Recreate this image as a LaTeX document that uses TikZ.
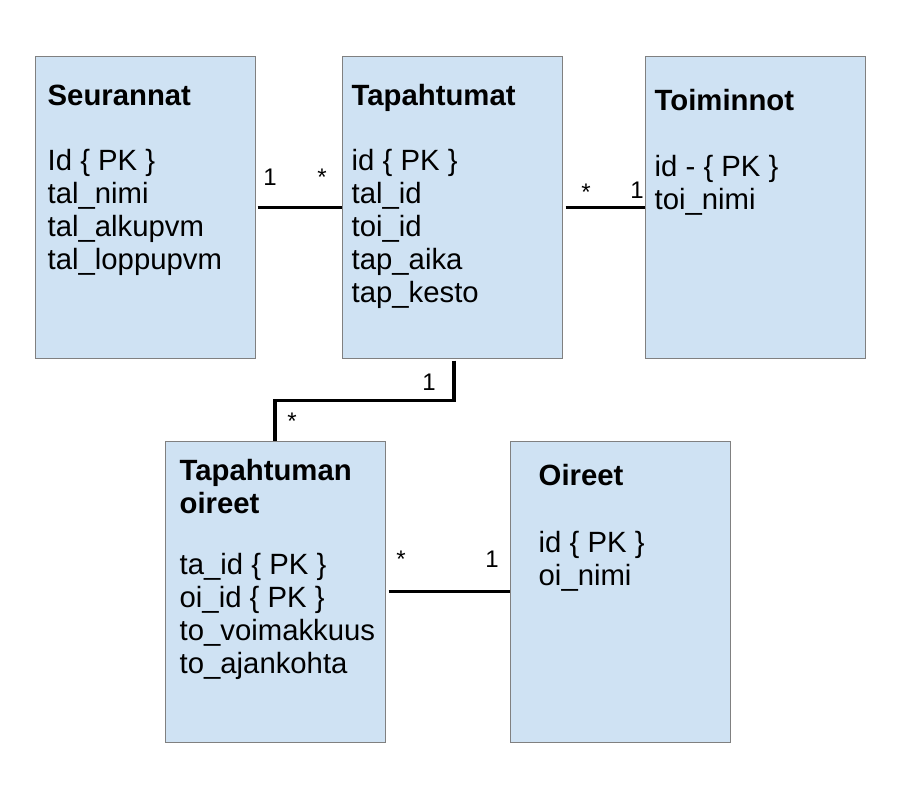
\documentclass[tikz,border=0pt]{standalone}
\usepackage{fontspec}
\setmainfont{Liberation Sans}
\usepackage{tikz}
\usetikzlibrary{positioning,calc}
\definecolor{tblfill}{RGB}{207,226,243}
\definecolor{tblline}{RGB}{128,128,128}
\tikzset{
  tbl/.style={draw=tblline, fill=tblfill, line width=1pt, inner sep=0pt,
              minimum width=220pt, minimum height=301pt},
  tbltext/.style={anchor=north west, inner sep=0pt, align=left,
                  font=\fontsize{29.3}{33}\selectfont},
  mult/.style={anchor=base, inner sep=0pt, font=\fontsize{24}{28}\selectfont},
  link/.style={line width=3.5pt},
}

\begin{document}
\begin{tikzpicture}[x=1pt, y=-1pt]
  \useasboundingbox (0,0) rectangle (900,800);

  % tables
  \node[tbl, anchor=north west] (SEU) at (34.5,56.5) {};
  \node[tbl, right=86pt of SEU]  (TAP) {};
  \node[tbl, right=82pt of TAP]  (TOI) {};
  \node[tbl, anchor=north west] (TAO) at (164.5,440.5) {};
  \node[tbl, right=124pt of TAO] (OIR) {};

  \node[tbltext] (SEUt) at ([xshift=13pt, yshift=-26pt]SEU.north west)
       {\strut\textbf{Seurannat}\\[32pt] Id \{ PK \}\\ tal\_nimi\\ tal\_alkupvm\\ tal\_loppupvm};
  \node[tbltext] (TAPt) at ([xshift=10pt, yshift=-26pt]TAP.north west)
       {\strut\textbf{Tapahtumat}\\[32pt] id \{ PK \}\\ tal\_id\\ toi\_id\\ tap\_aika\\ tap\_kesto};
  \node[tbltext] (TOIt) at ([xshift=10pt, yshift=-31pt]TOI.north west)
       {\strut\textbf{Toiminnot}\\[33pt] id - \{ PK \}\\ toi\_nimi};
  \node[tbltext] (TAOt) at ([xshift=15pt, yshift=-17pt]TAO.north west)
       {\strut\textbf{Tapahtuman}\\ \textbf{oireet}\\[28pt] ta\_id \{ PK \}\\ oi\_id \{ PK \}\\ to\_voimakkuus\\ to\_ajankohta};
  \node[tbltext] (OIRt) at ([xshift=29pt, yshift=-22pt]OIR.north west)
       {\strut\textbf{Oireet}\\[34pt] id \{ PK \}\\ oi\_nimi};

  % relations
  \draw[link, shorten <=2pt] (SEU) -- (TAP);
  \draw[link, shorten <=3pt] (TAP) -- (TOI);
  \draw[link, shorten <=2pt] ([xshift=2pt]TAP.south) -- ++(0,42) -| (TAO.north);
  \draw[link, shorten <=3pt] (TAO) -- (OIR);

  \node[mult] (m1) at (270,185) {1};
  \node[mult] (m2) at (322,185) {*};
  \node[mult] (m3) at (586,200) {*};
  \node[mult] (m4) at (637,198) {1};
  \node[mult] (m5) at (429,390) {1};
  \node[mult] (m6) at (292,429) {*};
  \node[mult] (m7) at (401,567) {*};
  \node[mult] (m8) at (492,567) {1};
\end{tikzpicture}
\end{document}
